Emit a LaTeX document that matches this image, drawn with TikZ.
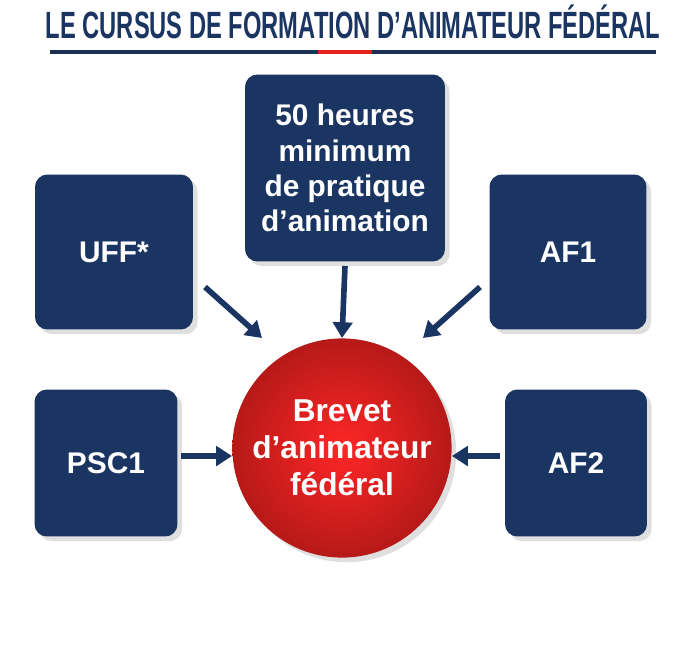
\documentclass[tikz,border=0pt]{standalone}
\usepackage{fontspec}
\setmainfont{Liberation Sans}[Ligatures=ResetAll]
\usepackage{tikz}
\usetikzlibrary{arrows.meta,shadows}
\definecolor{navy}{HTML}{1B3563}
\definecolor{navyline}{HTML}{1E2F55}
\definecolor{redc}{HTML}{E3201E}
\begin{document}
\begin{tikzpicture}[x=0.02cm,y=-0.02cm]
	\tikzstyle{box}=[draw=none,fill=navy,rounded corners=7pt,text=white,font=\bfseries\fontsize{17}{20}\selectfont,align=center,drop shadow={opacity=0.25}]
	\tikzstyle{link}=[navy,line width=3.2pt,-{Triangle[length=9pt,width=11pt]}]
	\useasboundingbox (0,0) rectangle (684,647);
	\fill[white] (0,0) rectangle (684,647);
	\node[text=navy,font=\bfseries\fontsize{18}{20}\selectfont] (title) at (353,22) {\scalebox{0.75}[1.2]{LE CURSUS DE FORMATION D’ANIMATEUR FÉDÉRAL}};
	\draw[navyline,line width=1.8pt] (50,52) -- (656,52);
	\draw[redc,line width=2.4pt] (318,52) -- (372,52);
	\node[box,minimum width=4cm,minimum height=3.74cm] (pratique) at (345,168) {50 heures\\minimum\\de pratique\\d'animation};
	\node[box,minimum width=3.16cm,minimum height=3.1cm] (uff) at (114,252) {UFF*};
	\node[box,minimum width=3.14cm,minimum height=3.1cm] (af1) at (568,252) {AF1};
	\node[box,minimum width=2.86cm,minimum height=2.94cm] (psc1) at (106,463) {PSC1};
	\node[box,minimum width=2.84cm,minimum height=2.94cm] (af2) at (576,463) {AF2};
	\node[circle,minimum size=4.32cm,shading=radial,inner color=red!85!white,outer color=redc!80!black,text=white,font=\bfseries\fontsize{18}{21}\selectfont,align=center,drop shadow={opacity=0.25}] (brevet) at (342,448) {Brevet\\d'animateur\\fédéral};
	\coordinate (u0) at (205,287);
	\coordinate (u1) at (262,338);
	\coordinate (p0) at (345,266);
	\coordinate (a0) at (480,287);
	\coordinate (a1) at (423,338);
	\coordinate (s0) at (181,456);
	\coordinate (f0) at (500,456);
	\draw[link] (u0) -- (u1);
	\draw[link] (p0) -- (brevet.north);
	\draw[link] (a0) -- (a1);
	\draw[link] (s0) -- (brevet.west |- s0);
	\draw[link] (f0) -- (brevet.east |- f0);
\end{tikzpicture}
\end{document}
